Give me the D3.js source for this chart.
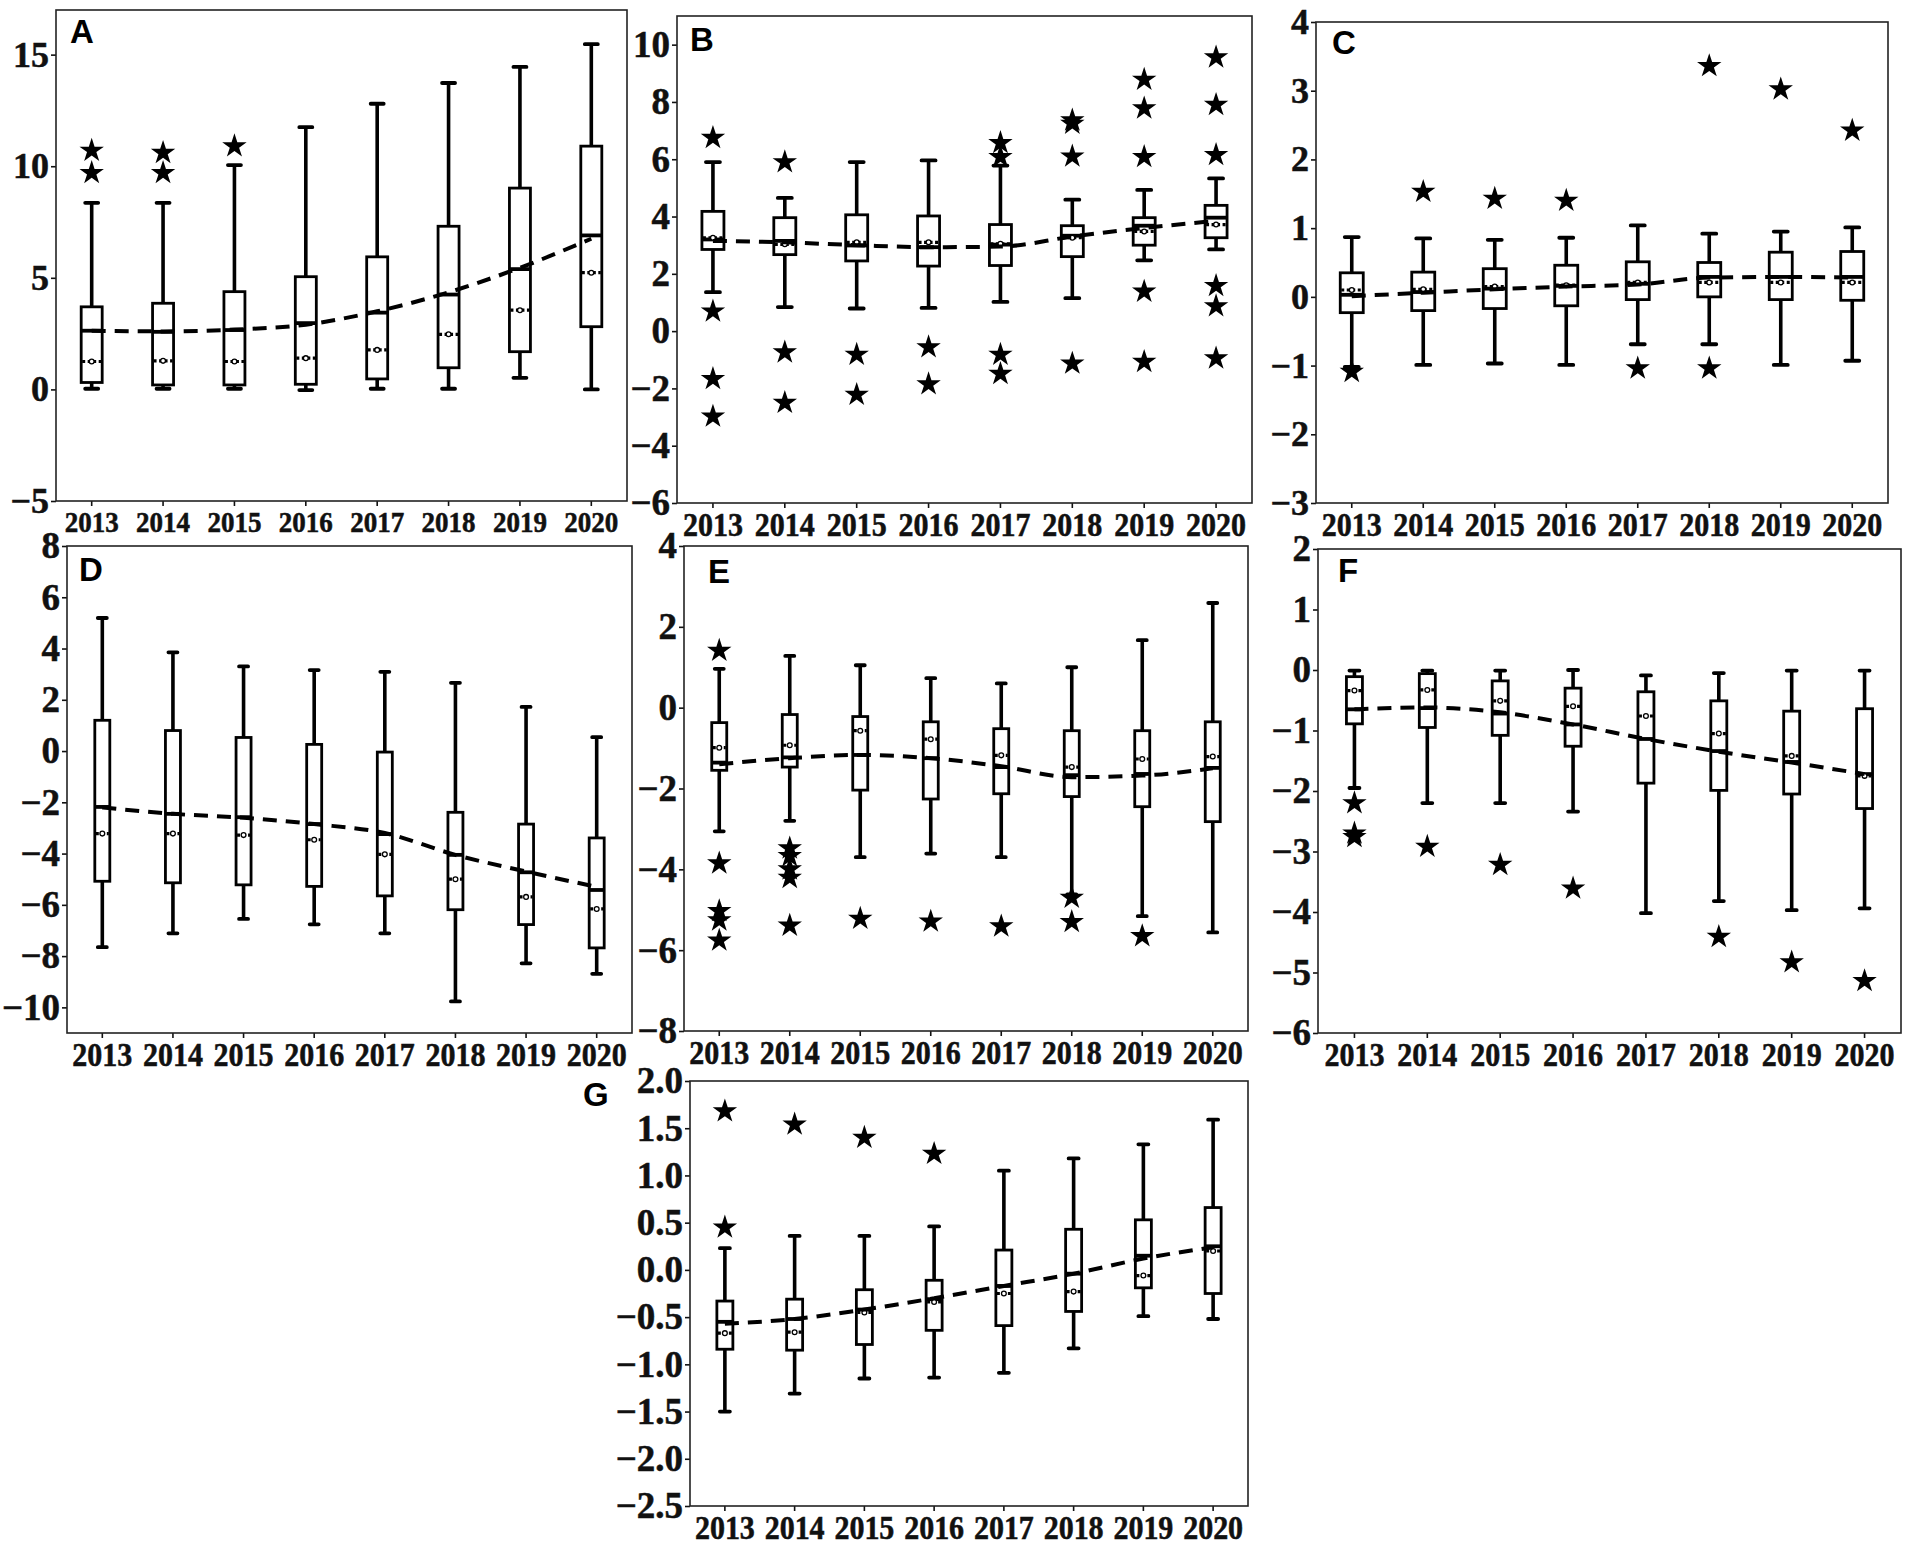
<!DOCTYPE html>
<html>
<head>
<meta charset="utf-8">
<script src="https://cdn.jsdelivr.net/npm/d3@7"></script>
<style>
  body { margin: 0; background: #fff; }
  svg { display: block; }
</style>
</head>
<body>
<div id="chart"></div>
<script>
/////////////////////////
// data
/////////////////////////
const years = [2013, 2014, 2015, 2016, 2017, 2018, 2019, 2020];

// A
const lowA   = [0.03, 0.03, 0.03, -0.03, 0.03, 0.03, 0.52, 0.0];
const q1A    = [0.31, 0.2, 0.2, 0.23, 0.47, 0.97, 1.69, 2.81];
const medA   = [2.63, 2.58, 2.66, 2.97, 3.44, 4.25, 5.39, 6.9];
const q3A    = [3.7, 3.86, 4.38, 5.05, 5.94, 7.31, 9.02, 10.9];
const highA  = [8.36, 8.36, 10.05, 11.75, 12.8, 13.73, 14.45, 15.47];
const meanA  = [1.25, 1.28, 1.25, 1.4, 1.77, 2.47, 3.55, 5.23];
const trendA = [2.63, 2.6, 2.68, 2.9, 3.5, 4.35, 5.45, 6.75];
const outA   = [[10.7, 9.7], [10.6, 9.7], [10.9], [], [], [], [], []];

// B
const lowB   = [1.36, 0.84, 0.79, 0.81, 1.02, 1.15, 2.47, 2.85];
const q1B    = [2.85, 2.67, 2.45, 2.27, 2.29, 2.6, 3.0, 3.26];
const medB   = [3.2, 3.15, 2.99, 2.93, 3.02, 3.33, 3.68, 3.96];
const q3B    = [4.18, 3.96, 4.06, 4.02, 3.72, 3.68, 3.96, 4.39];
const highB  = [5.9, 4.65, 5.9, 5.96, 5.78, 4.59, 4.93, 5.33];
const meanB  = [3.26, 3.03, 3.1, 3.1, 3.05, 3.26, 3.48, 3.72];
const trendB = [3.15, 3.1, 3.0, 2.93, 2.95, 3.3, 3.6, 3.85];
const outB   = [[6.75, 0.69, -1.67, -2.98], [5.9, -0.74, -2.5], [-0.82, -2.22], [-0.56, -1.85],
                [6.57, 6.08, -0.82, -1.49], [7.36, 7.24, 6.1, -1.13], [8.78, 7.78, 6.08, 1.38, -1.07],
                [9.56, 7.9, 6.15, 1.58, 0.87, -0.95]];

// C
const lowC   = [-1.02, -0.99, -0.97, -0.99, -0.69, -0.69, -0.99, -0.93];
const q1C    = [-0.23, -0.2, -0.17, -0.13, -0.04, 0.0, -0.04, -0.05];
const medC   = [0.03, 0.07, 0.12, 0.16, 0.19, 0.29, 0.29, 0.29];
const q3C    = [0.35, 0.36, 0.41, 0.46, 0.51, 0.5, 0.65, 0.66];
const highC  = [0.87, 0.85, 0.83, 0.86, 1.04, 0.92, 0.95, 1.01];
const meanC  = [0.1, 0.11, 0.15, 0.17, 0.21, 0.21, 0.21, 0.21];
const trendC = [0.01, 0.06, 0.11, 0.15, 0.18, 0.28, 0.29, 0.28];
const outC   = [[-1.09], [1.53], [1.43], [1.4], [-1.04], [3.36, -1.04], [3.02], [2.42]];

// D
const lowD   = [-7.65, -7.11, -6.55, -6.76, -7.11, -9.77, -8.28, -8.69];
const q1D    = [-5.08, -5.14, -5.22, -5.28, -5.65, -6.19, -6.77, -7.68];
const medD   = [-2.18, -2.45, -2.58, -2.85, -3.24, -4.05, -4.73, -5.42];
const q3D    = [1.2, 0.8, 0.53, 0.26, -0.04, -2.39, -2.85, -3.39];
const highD  = [5.19, 3.85, 3.3, 3.16, 3.09, 2.66, 1.72, 0.54];
const meanD  = [-3.22, -3.22, -3.28, -3.46, -4.03, -5.0, -5.69, -6.16];
const trendD = [-2.2, -2.45, -2.6, -2.85, -3.2, -4.05, -4.7, -5.3];
const outD   = [[], [], [], [], [], [], [], []];

// E
const lowE   = [-3.06, -2.8, -3.7, -3.61, -3.7, -4.62, -5.16, -5.56];
const q1E    = [-1.55, -1.47, -2.04, -2.26, -2.13, -2.2, -2.45, -2.82];
const medE   = [-1.36, -1.23, -1.17, -1.25, -1.47, -1.67, -1.64, -1.49];
const q3E    = [-0.37, -0.17, -0.22, -0.35, -0.52, -0.57, -0.57, -0.35];
const highE  = [0.96, 1.28, 1.05, 0.73, 0.6, 1.0, 1.67, 2.59];
const meanE  = [-0.99, -0.93, -0.57, -0.78, -1.18, -1.47, -1.27, -1.21];
const trendE = [-1.4, -1.25, -1.17, -1.25, -1.45, -1.72, -1.68, -1.5];
const outE   = [[1.41, -3.85, -5.03, -5.26, -5.76], [-3.48, -3.67, -4.0, -4.21, -5.39], [-5.22], [-5.29],
                [-5.41], [-4.7, -5.3], [-5.65], []];

// F
const lowF   = [-1.95, -2.2, -2.2, -2.34, -4.02, -3.82, -3.97, -3.94];
const q1F    = [-0.89, -0.95, -1.08, -1.26, -1.87, -1.99, -2.05, -2.29];
const medF   = [-0.65, -0.63, -0.72, -0.9, -1.14, -1.34, -1.52, -1.72];
const q3F    = [-0.11, -0.06, -0.18, -0.3, -0.36, -0.51, -0.68, -0.64];
const highF  = [-0.01, -0.01, -0.01, 0.0, -0.09, -0.05, -0.01, -0.01];
const meanF  = [-0.34, -0.33, -0.51, -0.6, -0.76, -1.05, -1.42, -1.75];
const trendF = [-0.65, -0.62, -0.7, -0.9, -1.14, -1.35, -1.53, -1.72];
const outF   = [[-2.2, -2.7, -2.76], [-2.92], [-3.22], [-3.61], [], [-4.41], [-4.83], [-5.14]];

// G
const lowG   = [-1.5, -1.31, -1.15, -1.14, -1.09, -0.83, -0.49, -0.52];
const q1G    = [-0.84, -0.85, -0.79, -0.64, -0.59, -0.44, -0.19, -0.25];
const medG   = [-0.55, -0.52, -0.42, -0.31, -0.17, -0.04, 0.15, 0.25];
const q3G    = [-0.33, -0.31, -0.21, -0.11, 0.21, 0.43, 0.53, 0.66];
const highG  = [0.23, 0.36, 0.36, 0.46, 1.05, 1.18, 1.33, 1.59];
const meanG  = [-0.67, -0.66, -0.45, -0.34, -0.25, -0.23, -0.06, 0.2];
const trendG = [-0.57, -0.52, -0.42, -0.3, -0.17, -0.04, 0.12, 0.24];
const outG   = [[1.68, 0.45], [1.54], [1.4], [1.23], [], [], [], []];

// y axis tick labels per panel
const ticksA = [-5, 0, 5, 10, 15];
const ticksB = [-6, -4, -2, 0, 2, 4, 6, 8, 10];
const ticksC = [-3, -2, -1, 0, 1, 2, 3, 4];
const ticksD = [-10, -8, -6, -4, -2, 0, 2, 4, 6, 8];
const ticksE = [-8, -6, -4, -2, 0, 2, 4];
const ticksF = [-6, -5, -4, -3, -2, -1, 0, 1, 2];
const ticksG = [-2.5, -2.0, -1.5, -1.0, -0.5, 0.0, 0.5, 1.0, 1.5, 2.0];

/////////////////////////
// layout
/////////////////////////
const panels = [
  {name: "A", left: 56, right: 627, top: 10, bottom: 501, domain: [-5, 17], ticks: ticksA, fmt: d3.format("d"),
   box: 21, xfs: 27, yfs: 36, lx: 70, ly: 43,
   stats: [lowA, q1A, medA, q3A, highA, meanA, trendA, outA]},
  {name: "B", left: 677, right: 1252, top: 16, bottom: 503, domain: [-6, 11], ticks: ticksB, fmt: d3.format("d"),
   box: 22, xfs: 30, yfs: 37, lx: 690, ly: 51,
   stats: [lowB, q1B, medB, q3B, highB, meanB, trendB, outB]},
  {name: "C", left: 1316, right: 1888, top: 22, bottom: 503, domain: [-3, 4], ticks: ticksC, fmt: d3.format("d"),
   box: 23, xfs: 30, yfs: 36, lx: 1332, ly: 54,
   stats: [lowC, q1C, medC, q3C, highC, meanC, trendC, outC]},
  {name: "D", left: 67, right: 632, top: 546, bottom: 1033, domain: [-11, 8], ticks: ticksD, fmt: d3.format("d"),
   box: 15, xfs: 30, yfs: 37, lx: 79, ly: 581,
   stats: [lowD, q1D, medD, q3D, highD, meanD, trendD, outD]},
  {name: "E", left: 684, right: 1248, top: 546, bottom: 1031, domain: [-8, 4], ticks: ticksE, fmt: d3.format("d"),
   box: 15, xfs: 30, yfs: 37, lx: 708, ly: 583,
   stats: [lowE, q1E, medE, q3E, highE, meanE, trendE, outE]},
  {name: "F", left: 1318, right: 1901, top: 549, bottom: 1033, domain: [-6, 2], ticks: ticksF, fmt: d3.format("d"),
   box: 16, xfs: 30, yfs: 37, lx: 1338, ly: 582,
   stats: [lowF, q1F, medF, q3F, highF, meanF, trendF, outF]},
  {name: "G", left: 690, right: 1248, top: 1081, bottom: 1506, domain: [-2.5, 2.0], ticks: ticksG, fmt: d3.format(".1f"),
   box: 16, xfs: 30, yfs: 37, lx: 583, ly: 1106,
   stats: [lowG, q1G, medG, q3G, highG, meanG, trendG, outG]}
];

const svg = d3.select("#chart")
    .append("svg")
    .attr("width", 1905)
    .attr("height", 1546);

svg.append("rect").attr("width", 1905).attr("height", 1546).attr("fill", "#fff");

const star = d3.symbol().type(d3.symbolStar).size(185);
const serif = "'Liberation Serif', 'Times New Roman', serif";

panels.forEach(drawPanel);

function drawPanel(p) {
    const [low, q1, med, q3, high, mean, trend, outs] = p.stats;
    const g = svg.append("g");

    const x = d3.scaleBand()
        .domain(years)
        .range([p.left, p.right])
        .padding(0);
    const cx = d => x(d) + x.bandwidth() / 2;

    const y = d3.scaleLinear()
        .domain(p.domain)
        .range([p.bottom, p.top]);

    // x axis
    const xa = g.append("g")
        .attr("transform", `translate(0,${p.bottom})`)
        .call(d3.axisBottom(x).tickSize(5).tickPadding(4));
    xa.select(".domain").remove();
    xa.selectAll("line").attr("stroke", "#111").attr("stroke-width", 1.6);
    xa.selectAll("text")
        .attr("font-family", serif)
        .attr("font-weight", "bold")
        .attr("font-size", p.xfs)
        .attr("fill", "#111")
        .attr("stroke", "#111").attr("stroke-width", 0.5)
        .attr("transform", "scale(1,1.1)");

    // y axis
    const ya = g.append("g")
        .attr("transform", `translate(${p.left},0)`)
        .call(d3.axisLeft(y).tickValues(p.ticks).tickFormat(p.fmt).tickSize(5).tickPadding(2));
    ya.select(".domain").remove();
    ya.selectAll("line").attr("stroke", "#111").attr("stroke-width", 1.6);
    ya.selectAll("text")
        .attr("font-family", serif)
        .attr("font-weight", "bold")
        .attr("font-size", p.yfs)
        .attr("fill", "#111")
        .attr("stroke", "#111").attr("stroke-width", 0.5);

    const idx = d3.range(years.length);
    const bw = p.box;
    const cap = Math.round(bw * 0.62);

    // whiskers
    g.selectAll(".whisk").data(idx).join("path")
        .attr("class", "whisk")
        .attr("d", i => `M${cx(years[i])},${y(q3[i])}V${y(high[i])}M${cx(years[i])},${y(q1[i])}V${y(low[i])}`)
        .attr("stroke", "#000").attr("stroke-width", 3.6).attr("fill", "none");

    // caps
    g.selectAll(".cap").data(idx).join("path")
        .attr("class", "cap")
        .attr("d", i => `M${cx(years[i]) - cap / 2},${y(high[i])}h${cap}M${cx(years[i]) - cap / 2},${y(low[i])}h${cap}`)
        .attr("stroke", "#000").attr("stroke-width", 3.8).attr("stroke-linecap", "round").attr("fill", "none");

    // boxes
    g.selectAll(".box").data(idx).join("rect")
        .attr("class", "box")
        .attr("x", i => cx(years[i]) - bw / 2)
        .attr("y", i => y(q3[i]))
        .attr("width", bw)
        .attr("height", i => y(q1[i]) - y(q3[i]))
        .attr("fill", "#fff")
        .attr("stroke", "#000").attr("stroke-width", 2.8);

    // medians
    g.selectAll(".med").data(idx).join("line")
        .attr("class", "med")
        .attr("x1", i => cx(years[i]) - bw / 2)
        .attr("x2", i => cx(years[i]) + bw / 2)
        .attr("y1", i => y(med[i]))
        .attr("y2", i => y(med[i]))
        .attr("stroke", "#000").attr("stroke-width", 3.8);

    // means (dotted line + small open circle)
    g.selectAll(".meanl").data(idx).join("line")
        .attr("class", "meanl")
        .attr("x1", i => cx(years[i]) - bw / 2 + 1)
        .attr("x2", i => cx(years[i]) + bw / 2 - 1)
        .attr("y1", i => y(mean[i]))
        .attr("y2", i => y(mean[i]))
        .attr("stroke", "#000").attr("stroke-width", 3.2).attr("stroke-dasharray", "3,2.5");
    g.selectAll(".meanc").data(idx).join("circle")
        .attr("class", "meanc")
        .attr("cx", i => cx(years[i]))
        .attr("cy", i => y(mean[i]))
        .attr("r", 2.4)
        .attr("fill", "#fff").attr("stroke", "#000").attr("stroke-width", 1.3);

    // trend line
    g.append("path")
        .datum(idx)
        .attr("fill", "none")
        .attr("stroke", "#000")
        .attr("stroke-width", 4)
        .attr("stroke-dasharray", "14,9")
        .attr("d", d3.line()
            .x(i => cx(years[i]))
            .y(i => y(trend[i]))
            .curve(d3.curveMonotoneX));

    // outliers
    const pts = [];
    outs.forEach((arr, i) => arr.forEach(v => pts.push({i: i, v: v})));
    g.selectAll(".out").data(pts).join("path")
        .attr("class", "out")
        .attr("d", star)
        .attr("transform", d => `translate(${cx(years[d.i])},${y(d.v)})`)
        .attr("fill", "#000");

    // frame
    g.append("rect")
        .attr("x", p.left).attr("y", p.top)
        .attr("width", p.right - p.left).attr("height", p.bottom - p.top)
        .attr("fill", "none").attr("stroke", "#222").attr("stroke-width", 1.6);

    // panel letter
    g.append("text")
        .attr("x", p.lx).attr("y", p.ly)
        .attr("font-family", "'Liberation Sans', Arial, sans-serif")
        .attr("font-weight", "bold")
        .attr("font-size", 33)
        .attr("fill", "#000")
        .text(p.name);
}
</script>
</body>
</html>
